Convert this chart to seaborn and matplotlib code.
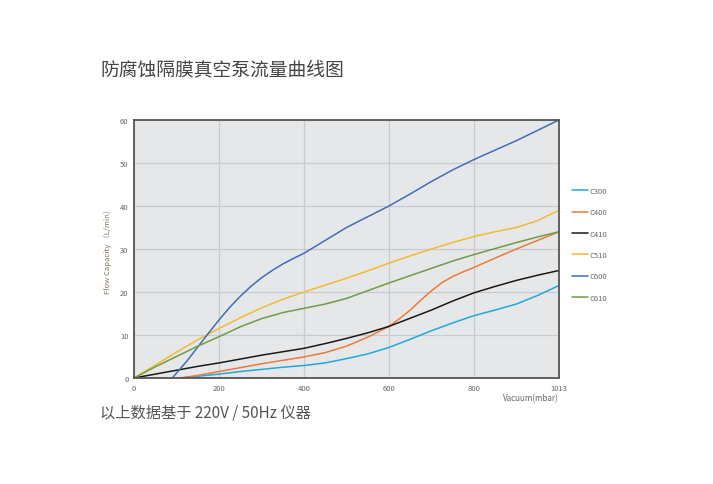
import pandas as pd
import matplotlib
matplotlib.use("Agg")
import matplotlib.pyplot as plt
import seaborn as sns

# flow curves (vacuum in mbar, flow in L/min)
c300_x = [110, 150, 200, 250, 300, 350, 400, 450, 500, 550, 600, 650, 700, 750, 800, 850, 900, 950, 1000]
c300_y = [0, 0.4, 0.9, 1.5, 2.0, 2.5, 2.9, 3.5, 4.5, 5.6, 7.1, 9.0, 11.0, 12.8, 14.5, 15.8, 17.2, 19.2, 21.5]

c400_x = [110, 150, 200, 250, 300, 350, 400, 450, 500, 550, 600, 625, 650, 675, 700, 725, 750, 775, 800,
          850, 900, 950, 1000]
c400_y = [0, 0.6, 1.5, 2.4, 3.3, 4.1, 4.9, 5.9, 7.4, 9.5, 12.0, 13.8, 15.8, 18.1, 20.3, 22.2, 23.6, 24.7, 25.7,
          27.9, 30.0, 32.0, 34.0]

c410_x = [0, 50, 100, 150, 200, 250, 300, 350, 400, 450, 500, 550, 600, 650, 700, 750, 800, 850, 900, 950, 1000]
c410_y = [0, 0.9, 1.8, 2.7, 3.5, 4.4, 5.3, 6.1, 6.9, 8.0, 9.2, 10.5, 12.0, 13.9, 15.8, 17.9, 19.8, 21.3, 22.7,
          23.9, 25.0]

c510_x = [0, 50, 100, 150, 200, 250, 300, 350, 400, 450, 500, 550, 600, 650, 700, 750, 800, 850, 900, 950, 1000]
c510_y = [0, 3.0, 6.0, 8.9, 11.5, 14.0, 16.3, 18.3, 20.0, 21.6, 23.2, 24.9, 26.7, 28.4, 30.0, 31.5, 32.9, 34.0,
          35.0, 36.6, 39.0]

c600_x = [90, 125, 150, 175, 200, 225, 250, 275, 300, 325, 350, 375, 400, 450, 500, 550, 600, 650, 700, 750,
          800, 850, 900, 950, 1000]
c600_y = [0, 4.0, 7.2, 10.4, 13.5, 16.4, 19.0, 21.3, 23.3, 25.0, 26.5, 27.8, 29.0, 32.0, 35.0, 37.5, 40.0, 42.8,
          45.7, 48.4, 50.8, 53.0, 55.2, 57.6, 60.0]

c610_x = [0, 50, 100, 150, 200, 250, 300, 350, 400, 450, 500, 550, 600, 650, 700, 750, 800, 850, 900, 950, 1000]
c610_y = [0, 2.6, 5.0, 7.4, 9.6, 11.9, 13.8, 15.2, 16.2, 17.2, 18.5, 20.3, 22.1, 23.8, 25.5, 27.2, 28.7, 30.1,
          31.5, 32.8, 34.0]

models = ["C300", "C400", "C410", "C510", "C600", "C610"]
colors = ["#1fa9de", "#ec7a3c", "#1a1a1a", "#f3bb34", "#3e6fb9", "#6f9c45"]
x_ticks = [0, 200, 400, 600, 800, 1000]
x_tick_labels = ["0", "200", "400", "600", "800", "1013"]
y_ticks = [0, 10, 20, 30, 40, 50, 60]

# build long table for seaborn
curves = [(c300_x, c300_y), (c400_x, c400_y), (c410_x, c410_y),
          (c510_x, c510_y), (c600_x, c600_y), (c610_x, c610_y)]
frames = []
for name, (xs, ys) in zip(models, curves):
    frames.append(pd.DataFrame({"vacuum": xs, "flow": ys, "model": name}))
df = pd.concat(frames, ignore_index=True)

sns.set_style("white")
plt.rcParams["font.family"] = ["Noto Sans CJK SC", "DejaVu Sans"]

fig = plt.figure(figsize=(7.13, 4.85), dpi=100)
ax = fig.add_axes([0.188, 0.2186, 0.596, 0.532])
ax.set_facecolor("#e6e7e8")

sns.lineplot(data=df, x="vacuum", y="flow", hue="model", hue_order=models,
             palette=dict(zip(models, colors)), linewidth=1.1, ax=ax,
             sort=True, estimator=None)

ax.set_xlim(0, 1000)
ax.set_ylim(0, 60)
ax.set_xticks(x_ticks)
ax.set_xticklabels(x_tick_labels)
ax.set_yticks(y_ticks)
ax.grid(True, color="#c9cacc", linewidth=0.9)
ax.set_axisbelow(True)
ax.tick_params(length=0, labelsize=5.5, labelcolor="#666666", pad=4)
for sp in ax.spines.values():
    sp.set_color("#555555")
    sp.set_linewidth(1.3)

ax.set_xlabel("")
ax.set_ylabel("Flow Capacity （L/min）", fontsize=5.5, color="#8a7560", labelpad=6)
ax.text(1.0, -0.075, "Vacuum(mbar)", transform=ax.transAxes, ha="right",
        va="center", fontsize=5.8, color="#666666")

leg = ax.legend(loc="upper left", bbox_to_anchor=(1.015, 0.767), frameon=False,
                fontsize=5.5, handlelength=2.0, labelspacing=1.75,
                handletextpad=0.3)
for t in leg.get_texts():
    t.set_color("#666666")
for h in leg.get_lines():
    h.set_linewidth(1.1)

fig.text(100 / 713, 1 - 70 / 485, "防腐蚀隔膜真空泵流量曲线图", fontsize=13.5,
         color="#444444", va="center", ha="left")
fig.text(100 / 713, 1 - 413 / 485, "以上数据基于 220V / 50Hz 仪器", fontsize=11,
         color="#555555", va="center", ha="left")

fig.savefig("out.png", dpi=100)
